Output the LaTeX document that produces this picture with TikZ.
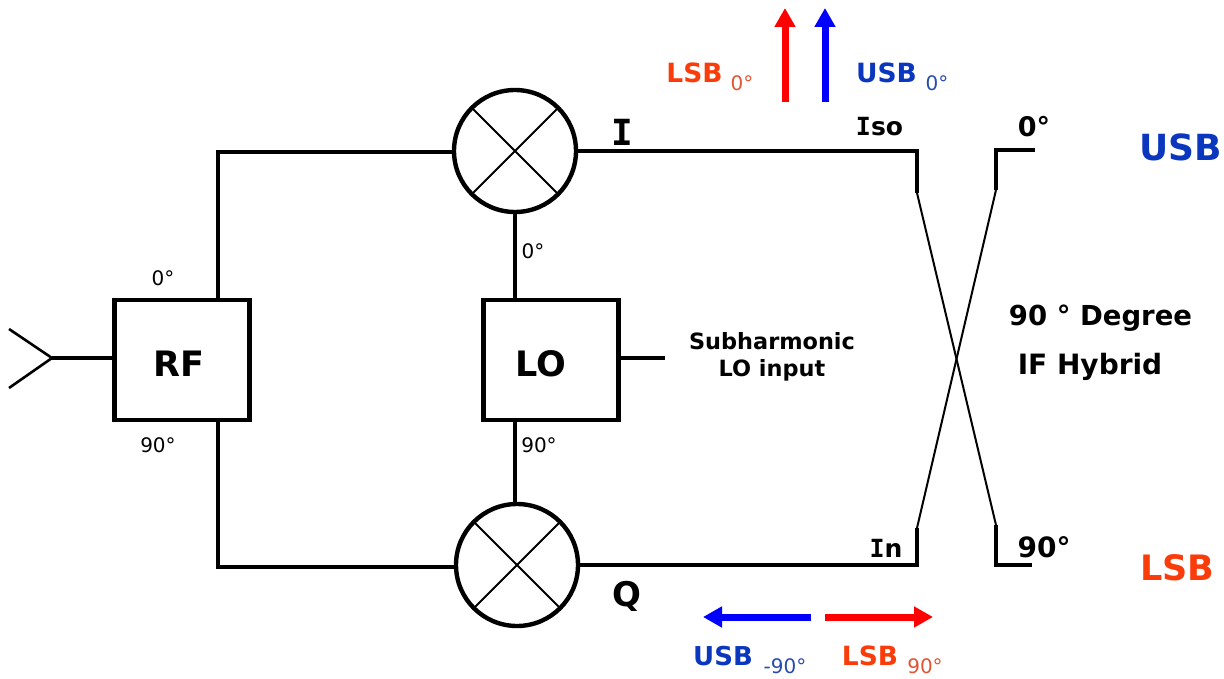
\documentclass[tikz,border=0pt]{standalone}
\usepackage{fontspec}
\setmainfont{DejaVu Sans}
\newfontfamily\monofam{DejaVu Sans Mono}
\usetikzlibrary{arrows.meta,calc}
\definecolor{lsbc}{RGB}{250,60,10}
\definecolor{usbc}{RGB}{10,55,190}
\definecolor{lsbs}{RGB}{225,85,50}
\definecolor{usbs}{RGB}{40,75,175}
\newcommand{\bigI}{{\monofam\bfseries I}}
\tikzset{
  wire/.style={line width=3.5pt,line join=miter},
  cross/.style={line width=1.8pt},
  thinwire/.style={line width=2pt},
  blockbox/.style={draw,line width=4.6pt,minimum width=135pt,minimum height=120pt,inner sep=0pt,outer sep=0pt,font=\fontsize{35}{35}\selectfont\bfseries},
  mixer/.style={circle,draw,line width=4.4pt,minimum size=122pt,inner sep=0pt,outer sep=0pt},
  sig/.style={line width=7pt,-{Triangle[width=20pt,length=19pt]}},
  lbl/.style={inner sep=0pt,font=\fontsize{#1}{#1}\selectfont\bfseries,align=center},
  sub/.style={inner sep=0pt,font=\fontsize{#1}{#1}\selectfont}
}
\begin{document}
\begin{tikzpicture}[x=1pt,y=-1pt]
\useasboundingbox (0,0) rectangle (1224,679);
\node[blockbox] (rf) at (182,360) {\hspace*{-6pt}\raisebox{-4pt}[\height][\depth]{RF}};
\node[blockbox] (lo) at (551,360) {\hspace*{-20pt}\raisebox{-4pt}[\height][\depth]{LO}};
\node[mixer] (mi) at (515,151) {};
\node[mixer] (mq) at (517,565) {};
\draw[cross] (mi.45) -- (mi.225) (mi.135) -- (mi.315);
\draw[cross] (mq.45) -- (mq.225) (mq.135) -- (mq.315);
% antenna
\coordinate (apex) at (52,358);
\coordinate (tipa) at (9,329);
\coordinate (tipb) at (9,388);
\draw[wire,line width=2.6pt] (tipa) -- (apex) -- (tipb);
\draw[wire] (apex) -- (rf.west |- apex);
% RF to mixers
\coordinate (up) at (218,152);
\coordinate (dn) at (218,567);
\draw[wire] (rf.north -| up) -- (up) -- (mi.west |- up);
\draw[wire] (rf.south -| dn) -- (dn) -- (mq.west |- dn);
% LO
\coordinate (lotop) at (515,299);
\coordinate (lobot) at (515,421);
\draw[wire] (mi.south) -- (lotop);
\draw[wire] (lobot) -- (mq.north -| lobot);
\coordinate (loin) at (665,358);
\draw[wire] (lo.east |- loin) -- (loin);
% hybrid
\coordinate (ic) at (917,151);
\coordinate (ib) at (917,193);
\coordinate (qc) at (917,565);
\coordinate (qb) at (917,528);
\coordinate (oa) at (1035,150);
\coordinate (oc) at (996,150);
\coordinate (ob) at (996,190);
\coordinate (pa) at (1032,565);
\coordinate (pc) at (996,565);
\coordinate (pb) at (996,525);
\draw[wire] (mi.east |- ic) -- (ic) -- (ib);
\draw[wire] (mq.east |- qc) -- (qc) -- (qb);
\draw[wire] (oa) -- (oc) -- (ob);
\draw[wire] (pa) -- (pc) -- (pb);
\draw[thinwire] (ib) -- (pb);
\draw[thinwire] (qb) -- (ob);
% signal arrows
\coordinate (ra) at (785,102); \coordinate (rb) at (785,8);
\coordinate (ba) at (825,102); \coordinate (bb) at (825,8);
\coordinate (la) at (811,617); \coordinate (lb) at (703,617);
\coordinate (sa) at (825,617); \coordinate (sb) at (933,617);
\draw[sig,red] (ra) -- (rb);
\draw[sig,blue] (ba) -- (bb);
\draw[sig,blue] (la) -- (lb);
\draw[sig,red] (sa) -- (sb);
% labels
\node[lbl=26.5,text=lsbc] (t1) at (694.5,73) {LSB};
\node[sub=20,text=lsbs] (t2) at (742,83) {0°};
\node[lbl=26.5,text=usbc] (t3) at (886.5,73) {USB};
\node[sub=20,text=usbs] (t4) at (937,83) {0°};
\node[lbl=36] (t5) at (622,132) {\bigI};
\node[lbl=25] (t6) at (879.5,127) {\bigI so};
\node[lbl=27] (t7) at (1034,127) {0°};
\node[lbl=36,text=usbc] (t8) at (1181,147) {USB};
\node[lbl=27.5] (t9) at (1100.5,318) {90 ° Degree};
\node[lbl=28] (t10) at (1090,367) {IF Hybrid};
\node[lbl=22.4] (t11) at (772,357) {Subharmonic\\[4pt]LO input};
\node[sub=20] (t12) at (163,278) {0°};
\node[sub=20] (t13) at (158,445) {90°};
\node[sub=20] (t14) at (533,251) {0°};
\node[sub=20] (t15) at (539,445) {90°};
\node[lbl=34] (t16) at (627,596) {Q};
\node[lbl=25] (t17) at (886,548) {\bigI n};
\node[lbl=28] (t18) at (1044,547) {90°};
\node[lbl=35,text=lsbc] (t19) at (1177.5,568) {LSB};
\node[lbl=26,text=usbc] (t20) at (723,656) {USB};
\node[sub=20,text=usbs] (t21) at (785,666) {-90°};
\node[lbl=26.5,text=lsbc] (t22) at (870,656) {LSB};
\node[sub=20,text=lsbs] (t23) at (925,666) {90°};
\end{tikzpicture}
\end{document}
